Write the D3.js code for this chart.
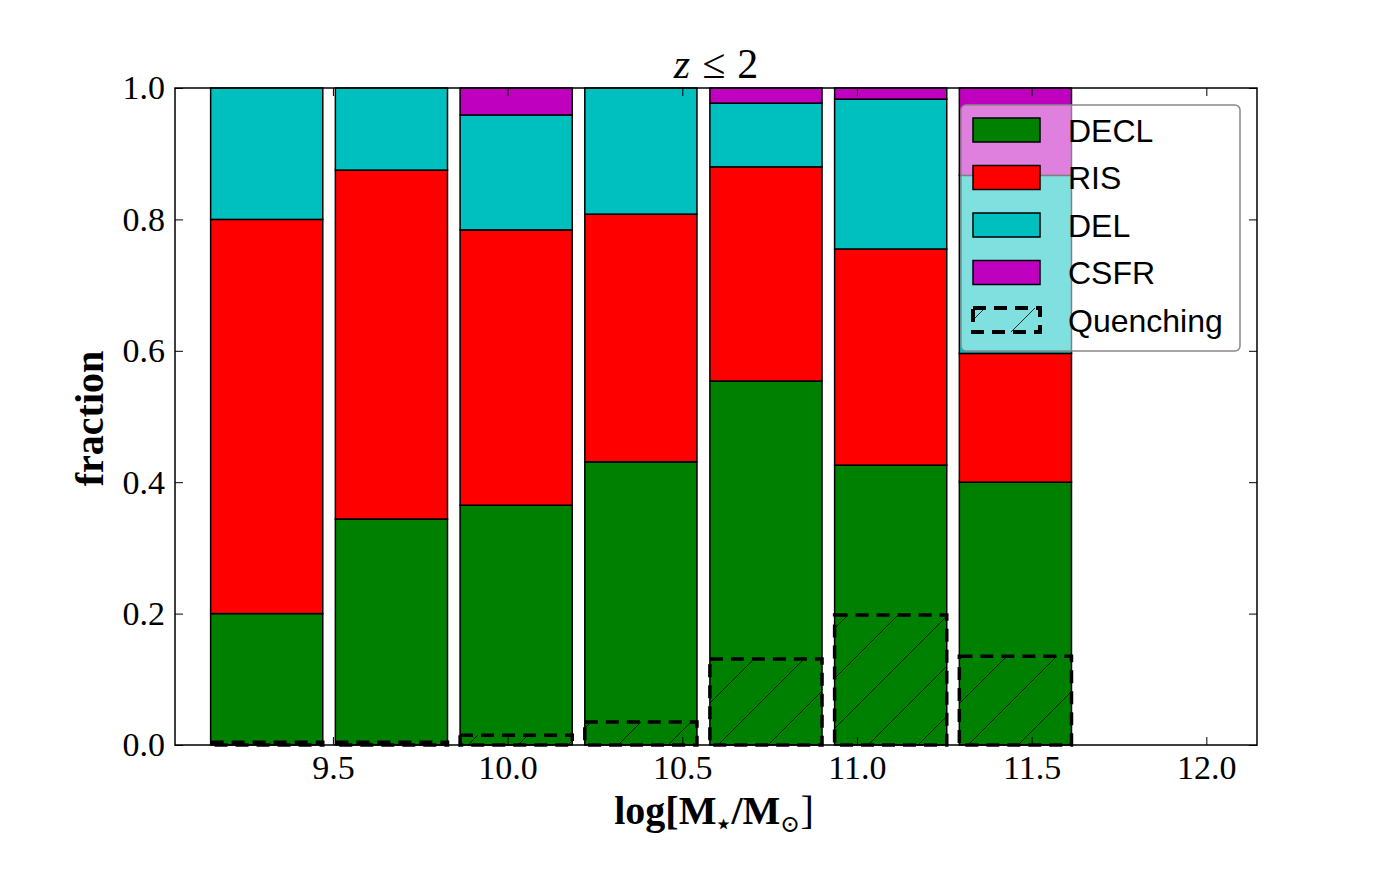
<!DOCTYPE html>
<html>
<head>
<meta charset="utf-8">
<script src="https://cdn.jsdelivr.net/npm/d3@7"></script>
<style>
  body { margin: 0; background: #fff; }
  svg { display: block; }
</style>
</head>
<body>
<div id="chart"></div>
<script>
// mass bins (left edge of each bar, log M*)
const massLo = [9.150, 9.507, 9.864, 10.221, 10.579, 10.936, 11.293];
const barWidth = 0.321;

// fractions per bin, stacked bottom -> top
const decl = [0.200, 0.344, 0.365, 0.431, 0.554, 0.426, 0.400];
const ris  = [0.600, 0.531, 0.419, 0.377, 0.326, 0.329, 0.196];
const del  = [0.200, 0.125, 0.175, 0.192, 0.097, 0.228, 0.271];
const csfr = [0.000, 0.000, 0.041, 0.000, 0.023, 0.017, 0.133];
const quench = [0.004, 0.004, 0.015, 0.035, 0.131, 0.198, 0.135];

const xTicks = [9.5, 10.0, 10.5, 11.0, 11.5, 12.0];
const yTicks = [0.0, 0.2, 0.4, 0.6, 0.8, 1.0];

const series = [
  { name: 'DECL', values: decl, color: '#008000' },
  { name: 'RIS', values: ris, color: '#ff0000' },
  { name: 'DEL', values: del, color: '#00bfbf' },
  { name: 'CSFR', values: csfr, color: '#bf00bf' }
];

const W = 1397, H = 878;
const margin = { top: 88, right: 140, bottom: 133, left: 175 };
const width = W - margin.left - margin.right;
const height = H - margin.top - margin.bottom;

const svg = d3.select('#chart').append('svg')
  .attr('width', W)
  .attr('height', H);

const defs = svg.append('defs');
const hatch = defs.append('pattern')
  .attr('id', 'hatch')
  .attr('patternUnits', 'userSpaceOnUse')
  .attr('width', 50)
  .attr('height', 50);
hatch.append('path')
  .attr('d', 'M-5,5 L5,-5 M0,50 L50,0 M45,55 L55,45')
  .attr('stroke', '#000')
  .attr('stroke-width', 0.8);

const g = svg.append('g')
  .attr('transform', `translate(${margin.left},${margin.top})`);

const x = d3.scaleLinear().domain([9.048, 12.145]).range([0, width]);
const y = d3.scaleLinear().domain([0, 1]).range([height, 0]);

// stacked bars
const rows = massLo.map((m, i) => {
  const r = { m };
  series.forEach(s => { r[s.name] = s.values[i]; });
  return r;
});
const stack = d3.stack().keys(series.map(s => s.name))(rows);

stack.forEach((layer, k) => {
  g.append('g')
    .selectAll('rect')
    .data(layer)
    .enter()
    .filter(d => d[1] - d[0] > 0)
    .append('rect')
    .attr('x', d => x(d.data.m))
    .attr('width', x(massLo[0] + barWidth) - x(massLo[0]))
    .attr('y', d => y(d[1]))
    .attr('height', d => y(d[0]) - y(d[1]))
    .attr('fill', series[k].color)
    .attr('stroke', '#000')
    .attr('stroke-width', 1.5);
});

// quenching bars, hatched + dashed
g.append('g')
  .selectAll('rect')
  .data(quench)
  .enter()
  .append('rect')
  .attr('x', (d, i) => x(massLo[i]))
  .attr('width', x(massLo[0] + barWidth) - x(massLo[0]))
  .attr('y', d => y(d))
  .attr('height', d => y(0) - y(d))
  .attr('fill', 'url(#hatch)')
  .attr('stroke', '#000')
  .attr('stroke-width', 3.5)
  .attr('stroke-dasharray', '13,8');

// axes (ticks pointing inward on all sides)
const tickFont = '"Liberation Serif", "DejaVu Serif", serif';
const fmt = d3.format('.1f');

const gx = g.append('g').attr('transform', `translate(0,${height})`)
  .call(d3.axisBottom(x).tickValues(xTicks).tickFormat(fmt).tickSize(-8).tickPadding(10));
const gy = g.append('g')
  .call(d3.axisLeft(y).tickValues(yTicks).tickFormat(fmt).tickSize(-8).tickPadding(10));
const gxt = g.append('g')
  .call(d3.axisTop(x).tickValues(xTicks).tickFormat('').tickSize(-8));
const gyr = g.append('g').attr('transform', `translate(${width},0)`)
  .call(d3.axisRight(y).tickValues(yTicks).tickFormat('').tickSize(-8));

[gx, gy, gxt, gyr].forEach(a => {
  a.select('.domain').remove();
  a.selectAll('.tick line').attr('stroke', '#000').attr('stroke-width', 1);
  a.selectAll('.tick text')
    .attr('fill', '#000')
    .style('font-family', tickFont)
    .style('font-size', '34px');
});

g.append('rect')
  .attr('width', width)
  .attr('height', height)
  .attr('fill', 'none')
  .attr('stroke', '#000')
  .attr('stroke-width', 1.5);

// title
const title = svg.append('text')
  .attr('x', margin.left + width / 2)
  .attr('y', 78)
  .attr('text-anchor', 'middle')
  .style('font-family', tickFont)
  .style('font-size', '42px');
title.append('tspan').style('font-style', 'italic').text('z');
title.append('tspan').attr('dx', 12).text('≤');
title.append('tspan').attr('dx', 12).text('2');

// axis labels
const xl = svg.append('text')
  .attr('x', margin.left + width / 2 - 2)
  .attr('y', 824)
  .attr('text-anchor', 'middle')
  .style('font-family', tickFont)
  .style('font-weight', 'bold')
  .style('font-size', '40px');
xl.append('tspan').text('log[M');
xl.append('tspan').attr('dy', 8).style('font-size', '24px').text('⋆');
xl.append('tspan').attr('dy', -8).text('/M');
xl.append('tspan').attr('dy', 8).style('font-size', '24px').style('font-weight', 'normal').text('⊙');
xl.append('tspan').attr('dy', -8).style('font-weight', 'normal').text(']');

svg.append('text')
  .attr('transform', `translate(103,${margin.top + height / 2 + 2}) rotate(-90)`)
  .attr('text-anchor', 'middle')
  .style('font-family', tickFont)
  .style('font-weight', 'bold')
  .style('font-size', '40px')
  .text('fraction');

// legend
const legend = svg.append('g').attr('transform', 'translate(961,105)');
legend.append('rect')
  .attr('width', 279)
  .attr('height', 246)
  .attr('rx', 5)
  .attr('fill', '#fff')
  .attr('fill-opacity', 0.5)
  .attr('stroke', '#888')
  .attr('stroke-width', 1.5);

const legendItems = series.map(s => ({ name: s.name, color: s.color, quench: false }))
  .concat([{ name: 'Quenching', color: 'none', quench: true }]);

const li = legend.selectAll('.item')
  .data(legendItems)
  .enter()
  .append('g')
  .attr('class', 'item')
  .attr('transform', (d, i) => `translate(12,${25 + i * 47.5})`);

li.append('rect')
  .attr('x', 0)
  .attr('y', -12)
  .attr('width', 67)
  .attr('height', 24)
  .attr('fill', d => d.quench ? 'url(#hatch)' : d.color)
  .attr('stroke', '#000')
  .attr('stroke-width', d => d.quench ? 4 : 1.5)
  .attr('stroke-dasharray', d => d.quench ? '13,8' : null);

li.append('text')
  .attr('x', 95)
  .attr('y', 0)
  .attr('dy', '0.36em')
  .style('font-family', '"Liberation Sans", Arial, sans-serif')
  .style('font-size', '32px')
  .text(d => d.name);
</script>
</body>
</html>
